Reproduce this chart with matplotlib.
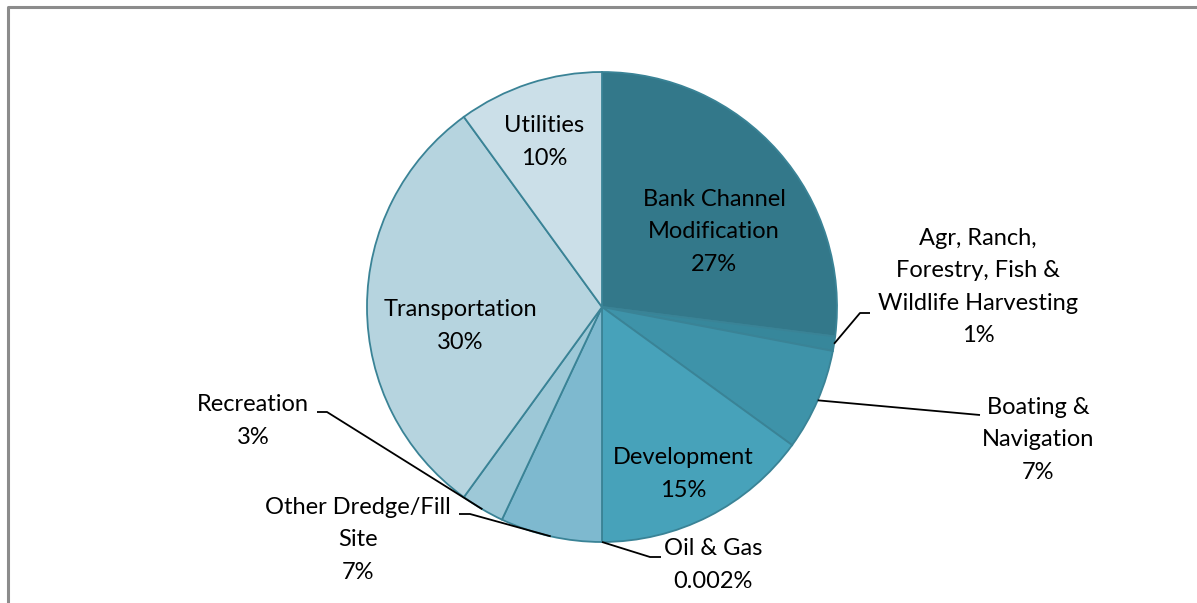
import numpy as np
import matplotlib
matplotlib.use("Agg")
import matplotlib.pyplot as plt

# data
categories = ["Bank Channel Modification", "Agr, Ranch, Forestry, Fish & Wildlife Harvesting",
              "Boating & Navigation", "Development", "Oil & Gas", "Other Dredge/Fill Site",
              "Recreation", "Transportation", "Utilities"]
values = [27, 1, 7, 15, 0.002, 7, 3, 30, 10]
pct_labels = ["27%", "1%", "7%", "15%", "0.002%", "7%", "3%", "30%", "10%"]
label_text = ["Bank Channel\nModification", "Agr, Ranch,\nForestry, Fish &\nWildlife Harvesting",
              "Boating &\nNavigation", "Development", "Oil & Gas", "Other Dredge/Fill\nSite",
              "Recreation", "Transportation", "Utilities"]
colors = ["#33788A", "#37879B", "#3E93A9", "#47A2BA", "#3F90A6", "#7EB9CF",
          "#9DC8D7", "#B6D4DF", "#CBDFE8"]

# layout (pixel space, y up)
W, H = 1197, 603
cx, cy, R = 602, 296, 235
label_pos = [(714, 371), (978, 316), (1038, 163), (683, 129), (713, 38),
             (358, 63), (253, 182), (460, 277), (544, 461)]
# elbow points for leader lines: (elbow_x, elbow_y, end_x)
leaders = {1: (860, 290, 870), 2: (980, 188, 980), 4: (650, 46, 661),
           5: (470, 89, 459), 6: (327, 191, 317)}

plt.rcParams['font.family'] = ['Lato', 'DejaVu Sans']
fig = plt.figure(figsize=(W / 100, H / 100), dpi=100)
ax = fig.add_axes([0, 0, 1, 1])
ax.set_xlim(0, W)
ax.set_ylim(0, H)
ax.set_aspect('equal')
ax.axis('off')

wedges, _ = ax.pie(values, colors=colors, startangle=90, counterclock=False,
                   center=(cx, cy), radius=R,
                   wedgeprops=dict(edgecolor="#3A8396", linewidth=1.3))
ax.set_xlim(0, W)
ax.set_ylim(0, H)

for i, w in enumerate(wedges):
    x, y = label_pos[i]
    ax.text(x, y, label_text[i] + "\n" + pct_labels[i], ha='center', va='center',
            fontsize=17, color='black', linespacing=1.66)
    if i in leaders:
        ang = np.deg2rad((w.theta1 + w.theta2) / 2)
        px, py = cx + R * np.cos(ang), cy + R * np.sin(ang)
        ex, ey, tx = leaders[i]
        ax.plot([px, ex, tx], [py, ey, ey], color='black', lw=1.3, solid_capstyle='butt')

# chart frame
ax.plot([7.5, 7.5, W], [0, H - 6.5, H - 6.5], color='#8C8C8C', lw=2.2, clip_on=False)

fig.savefig("out.png", dpi=100)
